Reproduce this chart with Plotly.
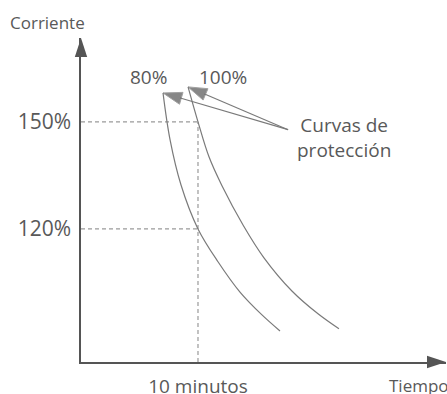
import plotly.graph_objects as go

# curvas de protección (tiempo en minutos, corriente en %)
t80 = [7.01, 7.61, 8.55, 10.0, 11.71, 13.59, 15.47, 17.01]
i80 = [158.1, 145.0, 132.3, 120.0, 110.8, 102.3, 95.9, 91.4]
t100 = [9.15, 10.0, 10.94, 12.05, 13.85, 15.64, 18.03, 20.26, 22.05]
i100 = [159.8, 150.0, 140.2, 132.1, 121.1, 111.9, 102.6, 96.2, 92.0]

t_ref = 10             # 10 minutos
i_levels = [150, 120]  # niveles de corriente marcados
i_labels = ["150%", "120%"]

x_max, y_min, y_max = 31.2, 82.7, 173.5
label_pt = (17.7, 147.8)  # punto de donde salen las flechas

TXT = "#595959"
FONT = "Open Sans"

fig = go.Figure()

# líneas guía punteadas
for lvl in i_levels:
    fig.add_trace(go.Scatter(x=[0, t_ref], y=[lvl, lvl], mode="lines",
                             line=dict(color="#9a9a9a", width=1.2, dash="4px,3px")))
fig.add_trace(go.Scatter(x=[t_ref, t_ref], y=[y_min, max(i_levels)], mode="lines",
                         line=dict(color="#9a9a9a", width=1.2, dash="4px,3px")))

# curvas
for tx, iy in [(t80, i80), (t100, i100)]:
    fig.add_trace(go.Scatter(x=tx, y=iy, mode="lines",
                             line=dict(color="#7a7a7a", width=1.2, shape="spline")))

# flechas hacia las curvas
for tx, iy in [(t80, i80), (t100, i100)]:
    fig.add_trace(go.Scatter(x=[label_pt[0], tx[0]], y=[label_pt[1], iy[0]],
                             mode="lines+markers", cliponaxis=False,
                             line=dict(color="#7a7a7a", width=1.2),
                             marker=dict(symbol="arrow", size=[0, 20], angleref="previous",
                                         color="#555555")))

# puntas de flecha de los ejes
fig.add_trace(go.Scatter(x=[0, x_max], y=[y_max, y_min], mode="markers", cliponaxis=False,
                         marker=dict(symbol="arrow", size=20, angle=[0, 90],
                                     color="#555555")))

fig.add_annotation(x=5.75, y=162.6, text="80%", showarrow=False,
                   font=dict(size=19, color=TXT, family=FONT))
fig.add_annotation(x=12.15, y=162.6, text="100%", showarrow=False,
                   font=dict(size=19, color=TXT, family=FONT))
fig.add_annotation(x=22.5, y=145.5, text="Curvas de<br>protección", showarrow=False,
                   font=dict(size=19, color=TXT, family=FONT))
fig.add_annotation(xref="paper", yref="paper", x=-0.2, y=1.0, yshift=16,
                   xanchor="left", yanchor="middle", text="Corriente", showarrow=False,
                   font=dict(size=17, color=TXT, family=FONT))
fig.add_annotation(xref="paper", yref="paper", x=0.838, y=0, yshift=-23,
                   xanchor="left", yanchor="middle", text="Tiempo", showarrow=False,
                   font=dict(size=17, color=TXT, family=FONT))

fig.update_layout(
    width=447, height=394,
    margin=dict(l=81, r=1, t=38, b=32),
    paper_bgcolor="white", plot_bgcolor="white",
    showlegend=False,
    font=dict(family=FONT, color=TXT),
    xaxis=dict(range=[0, x_max], showgrid=False, zeroline=False, automargin=False,
               showline=True, linecolor="#555555", linewidth=1.5,
               tickvals=[t_ref], ticktext=["10 minutos"], ticks="",
               ticklabelstandoff=6, tickfont=dict(size=19, color=TXT)),
    yaxis=dict(range=[y_min, y_max], showgrid=False, zeroline=False, automargin=False,
               showline=True, linecolor="#555555", linewidth=1.5,
               tickvals=i_levels, ticktext=i_labels, ticks="",
               ticklabelstandoff=4, tickfont=dict(size=21, color=TXT)),
)

fig.write_html("out.html", config={"displayModeBar": False},
               post_script="document.body.style.margin='0';")
